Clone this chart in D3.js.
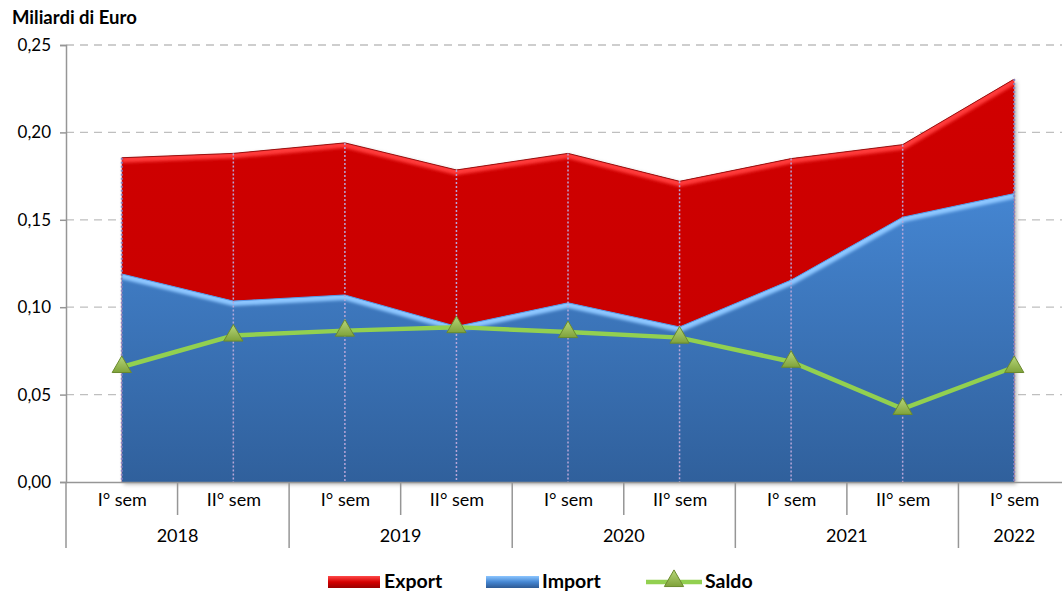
<!DOCTYPE html>
<html>
<head>
<meta charset="utf-8">
<script src="https://cdn.jsdelivr.net/npm/d3@7"></script>
<style>
  body { margin: 0; background: #fff; }
  svg { display: block; font-family: Lato, "Open Sans", sans-serif; }
</style>
</head>
<body>
<div id="chart"></div>
<script>
// data (billions of euro)
const semesters = ["I° sem", "II° sem", "I° sem", "II° sem", "I° sem", "II° sem", "I° sem", "II° sem", "I° sem"];
const years = ["2018", "2019", "2020", "2021", "2022"];
const yearSpans = [[0, 1], [2, 3], [4, 5], [6, 7], [8, 8]];
const exportVals = [0.1855, 0.188, 0.194, 0.1785, 0.188, 0.172, 0.185, 0.193, 0.2305];
const importVals = [0.119, 0.1035, 0.107, 0.089, 0.1025, 0.0887, 0.1155, 0.1515, 0.165];
const saldoVals = [0.0658, 0.0838, 0.0866, 0.0886, 0.0858, 0.0826, 0.0688, 0.0418, 0.0658];
const yTicks = [0, 0.05, 0.10, 0.15, 0.20, 0.25];

const width = 1062, height = 594;
const mLeft = 66, mRight = 1070, mTop = 45, mBottom = 482;

const svg = d3.select("#chart").append("svg")
  .attr("width", width).attr("height", height);

const idx = d3.range(semesters.length);
const x = d3.scalePoint().domain(idx).range([mLeft, mRight]).padding(0.5);
const band = (mRight - mLeft) / semesters.length;
const y = d3.scaleLinear().domain([0, 0.25]).range([mBottom, mTop]);
const fmt = v => d3.format(".2f")(v).replace(".", ",");

const defs = svg.append("defs");
const redGrad = defs.append("linearGradient").attr("id", "redG").attr("x1", 0).attr("y1", 0).attr("x2", 0).attr("y2", 1);
redGrad.append("stop").attr("offset", 0).attr("stop-color", "#d00404");
redGrad.append("stop").attr("offset", 1).attr("stop-color", "#c60000");
const blueGrad = defs.append("linearGradient").attr("id", "blueG")
  .attr("gradientUnits", "userSpaceOnUse").attr("x1", 0).attr("x2", 0).attr("y1", 190).attr("y2", mBottom);
blueGrad.append("stop").attr("offset", 0).attr("stop-color", "#4586d2");
blueGrad.append("stop").attr("offset", 1).attr("stop-color", "#30609c");
const triGrad = defs.append("linearGradient").attr("id", "triG").attr("x1", 0).attr("y1", 0).attr("x2", 0).attr("y2", 1);
triGrad.append("stop").attr("offset", 0).attr("stop-color", "#b7d77a");
triGrad.append("stop").attr("offset", 1).attr("stop-color", "#7fa23a");
const blur = defs.append("filter").attr("id", "soft");
blur.append("feGaussianBlur").attr("stdDeviation", 1.6);
const shadow = defs.append("filter").attr("id", "shadow").attr("x", -0.05).attr("y", -0.05).attr("width", 1.1).attr("height", 1.1);
shadow.append("feDropShadow").attr("dx", 2).attr("dy", 2).attr("stdDeviation", 2).attr("flood-color", "#000").attr("flood-opacity", 0.35);

// gridlines
svg.append("g").selectAll("line").data(yTicks.slice(1)).join("line")
  .attr("x1", mLeft).attr("x2", width)
  .attr("y1", d => y(d)).attr("y2", d => y(d))
  .attr("stroke", "#bfbfbf").attr("stroke-width", 1.3).attr("stroke-dasharray", "8,6");

// areas
const areaExp = d3.area().x((d, i) => x(i)).y0(y(0)).y1(d => y(d));
const lineTop = d3.line().x((d, i) => x(i)).y(d => y(d));

defs.append("clipPath").attr("id", "clipExp").append("path").attr("d", areaExp(exportVals));
defs.append("clipPath").attr("id", "clipImp").append("path").attr("d", areaExp(importVals));

svg.append("path").attr("d", areaExp(exportVals)).attr("fill", "url(#redG)").attr("filter", "url(#shadow)");
const expTop = svg.append("g").attr("clip-path", "url(#clipExp)");
expTop.append("path").attr("d", lineTop(exportVals)).attr("fill", "none")
  .attr("stroke", "#ff3a3a").attr("stroke-width", 10).attr("filter", "url(#soft)");
svg.append("path").attr("d", lineTop(exportVals)).attr("fill", "none")
  .attr("stroke", "#9a1010").attr("stroke-width", 1);

svg.append("path").attr("d", areaExp(importVals)).attr("fill", "url(#blueG)");
const impTop = svg.append("g").attr("clip-path", "url(#clipImp)");
impTop.append("path").attr("d", lineTop(importVals)).attr("fill", "none")
  .attr("stroke", "#8cc6ff").attr("stroke-width", 10).attr("filter", "url(#soft)");
svg.append("path").attr("d", lineTop(importVals)).attr("fill", "none")
  .attr("stroke", "#5a9ae6").attr("stroke-width", 1);

// drop lines
svg.append("g").selectAll("line").data(exportVals).join("line")
  .attr("x1", (d, i) => x(i)).attr("x2", (d, i) => x(i))
  .attr("y1", d => y(d)).attr("y2", y(0))
  .attr("stroke", (d, i) => (i === 0 || i === exportVals.length - 1) ? "#8a84c0" : "#b8a6d8")
  .attr("stroke-width", (d, i) => (i === 0 || i === exportVals.length - 1) ? 2 : 1.5)
  .attr("stroke-dasharray", "2,2");

// saldo line
svg.append("path").attr("d", lineTop(saldoVals)).attr("fill", "none")
  .attr("stroke", "#92d050").attr("stroke-width", 4.5);
const tri = d3.symbol().type(d3.symbolTriangle).size(160);
svg.append("g").selectAll("path").data(saldoVals).join("path")
  .attr("d", tri)
  .attr("transform", (d, i) => `translate(${x(i)},${y(d)})`)
  .attr("fill", "url(#triG)").attr("stroke", "#6b8a2e").attr("stroke-width", 1);

// y axis
const yAxis = svg.append("g").attr("transform", `translate(${mLeft},0)`)
  .call(d3.axisLeft(y).tickValues(yTicks).tickFormat(fmt).tickSize(6).tickPadding(9));
yAxis.select(".domain").attr("stroke", "#969696").attr("stroke-width", 1.5);
yAxis.selectAll(".tick line").attr("stroke", "#969696").attr("stroke-width", 1.5);
yAxis.selectAll("text").attr("font-size", 17).attr("fill", "#000").attr("font-family", "Lato, sans-serif");

// x axis (two levels)
const xAxis = svg.append("g").attr("transform", `translate(0,${mBottom})`)
  .call(d3.axisBottom(x).tickFormat(i => semesters[i]).tickSize(0).tickPadding(11));
xAxis.select(".domain").attr("stroke", "#969696").attr("stroke-width", 1.5);
xAxis.selectAll("text").attr("font-size", 18).attr("fill", "#000").attr("font-family", "Lato, sans-serif");

const gX = svg.append("g").attr("stroke", "#969696").attr("stroke-width", 1.5);
idx.forEach(i => {
  const bx = x(i) - band / 2;
  const longTick = yearSpans.some(s => s[0] === i);
  gX.append("line").attr("x1", bx).attr("x2", bx).attr("y1", mBottom).attr("y2", longTick ? mBottom + 66 : mBottom + 33);
});

svg.append("g").selectAll("text").data(years).join("text")
  .attr("x", (d, k) => (x(yearSpans[k][0]) + x(yearSpans[k][1])) / 2)
  .attr("y", mBottom + 60)
  .attr("text-anchor", "middle").attr("font-size", 18)
  .text(d => d);

// unit label
svg.append("text").attr("x", 12).attr("y", 24)
  .attr("font-size", 18.5).attr("font-weight", "bold").text("Miliardi di Euro");

// legend
const leg = svg.append("g").attr("font-size", 19.5).attr("font-weight", "bold");
const legRed = defs.append("linearGradient").attr("id", "legR").attr("x1", 0).attr("y1", 0).attr("x2", 0).attr("y2", 1);
legRed.append("stop").attr("offset", 0).attr("stop-color", "#ff4a4a");
legRed.append("stop").attr("offset", 0.5).attr("stop-color", "#d40000");
legRed.append("stop").attr("offset", 1).attr("stop-color", "#9a0000");
const legBlue = defs.append("linearGradient").attr("id", "legB").attr("x1", 0).attr("y1", 0).attr("x2", 0).attr("y2", 1);
legBlue.append("stop").attr("offset", 0).attr("stop-color", "#8cc6ff");
legBlue.append("stop").attr("offset", 0.5).attr("stop-color", "#4586d2");
legBlue.append("stop").attr("offset", 1).attr("stop-color", "#2e5a94");

leg.append("rect").attr("x", 328).attr("y", 576).attr("width", 52).attr("height", 12).attr("fill", "url(#legR)");
leg.append("text").attr("x", 384).attr("y", 588).text("Export");
leg.append("rect").attr("x", 486).attr("y", 576).attr("width", 53).attr("height", 12).attr("fill", "url(#legB)");
leg.append("text").attr("x", 542).attr("y", 588).text("Import");
leg.append("line").attr("x1", 646).attr("x2", 702).attr("y1", 582).attr("y2", 582)
  .attr("stroke", "#92d050").attr("stroke-width", 4.5);
leg.append("path").attr("d", tri).attr("transform", "translate(674,581)")
  .attr("fill", "url(#triG)").attr("stroke", "#6b8a2e").attr("stroke-width", 1);
leg.append("text").attr("x", 705).attr("y", 588).text("Saldo");
</script>
</body>
</html>
